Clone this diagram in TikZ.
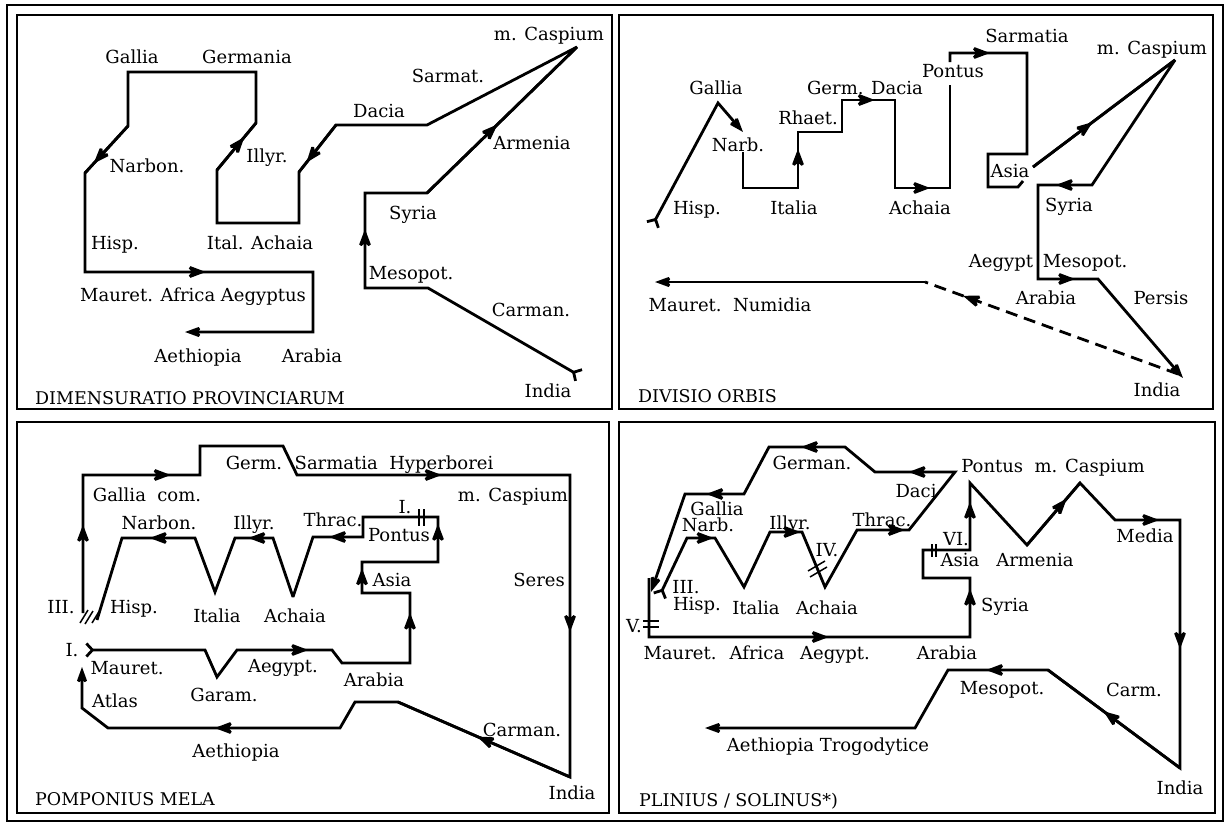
\documentclass[tikz,border=0pt]{standalone}
\usepackage{fontspec}
\setmainfont{DejaVu Serif}
\usetikzlibrary{arrows.meta,decorations.markings}

\tikzset{
  pointer/.tip={Stealth[length=18pt,width=13pt,inset=5pt]},
  midpointer/.tip={Stealth[length=20pt,width=15pt,inset=6pt]},
  forktail/.tip={Straight Barb[reversed,length=6pt,width=13pt]},
  route/.style={line width=2.8pt, line join=miter, miter limit=3},
  arrowat/.style={postaction={decorate},
    decoration={markings, mark=at position #1 with {\arrow{midpointer}}}},
  place/.style={font=\fontsize{18}{20}\selectfont, inner sep=0pt, anchor=base},
  heading/.style={font=\fontsize{17.5}{20}\selectfont, inner sep=0pt, anchor=base west},
  panel/.style={line width=1.6pt},
  cut/.style={line width=1.5pt},
}

\begin{document}
\begin{tikzpicture}[x=1pt,y=-1pt]
        \useasboundingbox (0,0) rectangle (1232,827);
        \draw[line width=2.6pt] (7,5) rectangle (1223,821);
        \draw[panel] (17,15) rectangle (612,409);
        \draw[panel] (619,15) rectangle (1213,409);
        \draw[panel] (17,422) rectangle (609,813);
        \draw[panel] (619,422) rectangle (1215,813);

        % Dimensuratio provinciarum
        \draw[route,{forktail}-{pointer}] (580,376) -- (428,288) -- (365,288) -- (365,193) -- (427,193)
            -- (577,47) -- (427,125) -- (336,125) -- (299,172) -- (299,223) -- (217,223)
            -- (217,170) -- (256,123) -- (256,72) -- (128,72) -- (128,126) -- (85,173)
            -- (85,272) -- (313,272) -- (313,332) -- (185,332);
        \draw[route,arrowat=0.62] (365,288) -- (365,193);
        \draw[route,arrowat=0.47] (427,193) -- (577,47);
        \draw[route,arrowat=0.8] (336,125) -- (299,172);
        \draw[route,arrowat=0.7] (217,170) -- (256,123);
        \draw[route,arrowat=0.8] (128,126) -- (85,173);
        \draw[route,arrowat=0.53] (85,272) -- (313,272);
        \node[place] (aGal) at (132,63) {Gallia};
        \node[place] (aGer) at (247,63) {Germania};
        \node[place] (aNar) at (147,172) {Narbon.};
        \node[place] (aIll) at (267,162) {Illyr.};
        \node[place] (aHis) at (115,249) {Hisp.};
        \node[place] (aIta) at (260,249) {Ital. Achaia};
        \node[place] (aMau) at (193,301) {Mauret. Africa Aegyptus};
        \node[place] (aAet) at (198,362) {Aethiopia};
        \node[place] (aAra) at (312,362) {Arabia};
        \node[place] (aCas) at (549,40) {m. Caspium};
        \node[place] (aSar) at (448,82) {Sarmat.};
        \node[place] (aDac) at (379,117) {Dacia};
        \node[place] (aArm) at (532,149) {Armenia};
        \node[place] (aSyr) at (413,219) {Syria};
        \node[place] (aMes) at (411,279) {Mesopot.};
        \node[place] (aCar) at (531,316) {Carman.};
        \node[place] (aInd) at (548,397) {India};
        \node[heading] (aTit) at (35,404) {DIMENSURATIO PROVINCIARUM};

        % Divisio orbis
        \draw[route,{forktail}-{pointer}] (652,226) -- (718,103) -- (743,132);
        \draw[route] (743,152) -- (743,188) -- (798,188) -- (798,132) -- (842,132) -- (842,100)
            -- (895,100) -- (895,188) -- (950,188) -- (950,85);
        \draw[route,arrowat=0.7] (798,188) -- (798,132);
        \draw[route,arrowat=0.62] (842,100) -- (895,100);
        \draw[route,arrowat=0.64] (895,188) -- (950,188);
        \draw[route] (950,62) -- (950,53) -- (1027,53) -- (1027,154) -- (988,154) -- (988,187)
            -- (1018,187) -- (1023,181);
        \draw[route,arrowat=0.52] (950,53) -- (1027,53);
        \draw[route,-{pointer}] (1033,167) -- (1175,60) -- (1092,185) -- (1038,185) -- (1038,279)
            -- (1098,279) -- (1183,378);
        \draw[route,arrowat=0.42] (1033,167) -- (1175,60);
        \draw[route,arrowat=0.67] (1092,185) -- (1038,185);
        \draw[route,arrowat=0.62] (1038,279) -- (1098,279);
        \draw[route,dash pattern=on 12pt off 7pt,arrowat=0.85] (1178,374) -- (925,282);
        \draw[route,-{pointer}] (925,282) -- (655,282);
        \node[place] (bGal) at (716,94) {Gallia};
        \node[place] (bNar) at (738,151) {Narb.};
        \node[place] (bRha) at (808,124) {Rhaet.};
        \node[place] (bGer) at (865,94) {Germ. Dacia};
        \node[place] (bHis) at (697,214) {Hisp.};
        \node[place] (bIta) at (794,214) {Italia};
        \node[place] (bAch) at (920,214) {Achaia};
        \node[place] (bSar) at (1027,42) {Sarmatia};
        \node[place] (bPon) at (953,77) {Pontus};
        \node[place] (bCas) at (1152,54) {m. Caspium};
        \node[place] (bAsi) at (1010,177) {Asia};
        \node[place] (bSyr) at (1069,211) {Syria};
        \node[place] (bAeg) at (1001,267) {Aegypt};
        \node[place] (bMes) at (1085,267) {Mesopot.};
        \node[place] (bAra) at (1046,304) {Arabia};
        \node[place] (bPer) at (1161,304) {Persis};
        \node[place] (bInd) at (1157,396) {India};
        \node[place] (bMau) at (730,311) {Mauret.\ \ Numidia};
        \node[heading] (bTit) at (638,402) {DIVISIO ORBIS};

        % Pomponius Mela
        \draw[route,{forktail}-] (85,650) -- (205,650) -- (217,677) -- (237,650) -- (332,650)
            -- (342,663) -- (410,663) -- (410,593) -- (362,593) -- (362,562) -- (438,562)
            -- (438,517) -- (363,517) -- (363,537) -- (313,537) -- (293,597) -- (273,538)
            -- (235,538) -- (215,592) -- (195,538) -- (122,538) -- (97,620);
        \draw[route,arrowat=0.75] (237,650) -- (332,650);
        \draw[route,arrowat=0.72] (410,663) -- (410,593);
        \draw[route,arrowat=0.8] (362,593) -- (362,562);
        \draw[route,arrowat=0.85] (438,562) -- (438,517);
        \draw[route,arrowat=0.68] (363,537) -- (313,537);
        \draw[route,arrowat=0.65] (273,538) -- (235,538);
        \draw[route,arrowat=0.62] (195,538) -- (122,538);
        \draw[route,-{pointer}] (83,613) -- (83,475) -- (200,475) -- (200,446) -- (283,446) -- (297,475)
            -- (570,475) -- (570,777) -- (398,702) -- (355,702) -- (340,728) -- (108,728)
            -- (82,708) -- (82,667);
        \draw[route,arrowat=0.64] (83,613) -- (83,475);
        \draw[route,arrowat=0.75] (83,475) -- (200,475);
        \draw[route,arrowat=0.53] (297,475) -- (570,475);
        \draw[route,arrowat=0.52] (570,475) -- (570,777);
        \draw[route,arrowat=0.54] (570,777) -- (398,702);
        \draw[route,arrowat=0.54] (340,728) -- (108,728);
        \draw[cut] (419,509) -- (419,526);
        \draw[cut] (424,509) -- (424,526);
        \draw[cut] (80,623) -- (88,610);
        \draw[cut] (85,624) -- (93,611);
        \draw[cut] (92,623) -- (100,610);
        \node[place] (cGer) at (254,469) {Germ.};
        \node[place] (cSar) at (394,469) {Sarmatia\ \ Hyperborei};
        \node[place] (cGal) at (147,501) {Gallia\ \ com.};
        \node[place] (cCas) at (513,501) {m. Caspium};
        \node[place] (cNar) at (159,529) {Narbon.};
        \node[place] (cIll) at (254,529) {Illyr.};
        \node[place] (cThr) at (333,526) {Thrac.};
        \node[place] (cOne) at (405,513) {I.};
        \node[place] (cPon) at (399,541) {Pontus};
        \node[place] (cAsi) at (392,586) {Asia};
        \node[place] (cSer) at (539,586) {Seres};
        \node[place] (cThree) at (61,613) {III.};
        \node[place] (cHis) at (134,613) {Hisp.};
        \node[place] (cIta) at (217,622) {Italia};
        \node[place] (cAch) at (295,622) {Achaia};
        \node[place] (cStart) at (72,656) {I.};
        \node[place] (cMau) at (127,674) {Mauret.};
        \node[place] (cAeg) at (283,672) {Aegypt.};
        \node[place] (cGar) at (224,701) {Garam.};
        \node[place] (cAtl) at (115,707) {Atlas};
        \node[place] (cAra) at (374,686) {Arabia};
        \node[place] (cCar) at (522,736) {Carman.};
        \node[place] (cAet) at (236,757) {Aethiopia};
        \node[place] (cInd) at (572,799) {India};
        \node[heading] (cTit) at (35,805) {POMPONIUS MELA};

        % Plinius / Solinus
        \draw[route,{forktail}-{pointer}] (659,597) -- (687,538) -- (715,538) -- (744,587) -- (770,532)
            -- (802,532) -- (825,587) -- (857,530) -- (909,530) -- (955,472) -- (875,472)
            -- (845,447) -- (769,447) -- (744,494) -- (685,494) -- (651,592);
        \draw[route,arrowat=0.95] (687,538) -- (715,538);
        \draw[route,arrowat=0.95] (770,532) -- (802,532);
        \draw[route,arrowat=0.92] (857,530) -- (909,530);
        \draw[route,arrowat=0.58] (955,472) -- (875,472);
        \draw[route,arrowat=0.58] (845,447) -- (769,447);
        \draw[route,arrowat=0.64] (744,494) -- (685,494);
        \draw[route,-{pointer}] (649,578) -- (649,637) -- (970,637) -- (970,578) -- (923,578) -- (923,550)
            -- (970,550) -- (970,483) -- (1027,545) -- (1080,483) -- (1115,520) -- (1180,520)
            -- (1180,768) -- (1048,670) -- (948,670) -- (915,728) -- (705,728);
        \draw[route,arrowat=0.56] (649,637) -- (970,637);
        \draw[route,arrowat=0.82] (970,637) -- (970,578);
        \draw[route,arrowat=0.72] (970,550) -- (970,483);
        \draw[route,arrowat=0.75] (1027,545) -- (1080,483);
        \draw[route,arrowat=0.68] (1115,520) -- (1180,520);
        \draw[route,arrowat=0.52] (1180,520) -- (1180,768);
        \draw[route,arrowat=0.58] (1180,768) -- (1048,670);
        \draw[route,arrowat=0.62] (1048,670) -- (948,670);
        \draw[cut] (808,571) -- (825,561);
        \draw[cut] (810,577) -- (827,567);
        \draw[cut] (643,621) -- (659,621);
        \draw[cut] (643,627) -- (659,627);
        \draw[cut] (932,544) -- (932,557);
        \draw[cut] (936,544) -- (936,557);
        \node[place] (dGer) at (812,469) {German.};
        \node[place] (dDac) at (916,497) {Daci};
        \node[place] (dGal) at (717,515) {Gallia};
        \node[place] (dNar) at (708,531) {Narb.};
        \node[place] (dIll) at (790,529) {Illyr.};
        \node[place] (dThr) at (882,526) {Thrac.};
        \node[place] (dFour) at (827,556) {IV.};
        \node[place] (dThree) at (686,593) {III.};
        \node[place] (dHis) at (697,610) {Hisp.};
        \node[place] (dIta) at (756,614) {Italia};
        \node[place] (dAch) at (827,614) {Achaia};
        \node[place] (dFive) at (634,632) {V.};
        \node[place] (dMau) at (680,659) {Mauret.};
        \node[place] (dAfr) at (757,659) {Africa};
        \node[place] (dAeg) at (835,659) {Aegypt.};
        \node[place] (dAra) at (947,659) {Arabia};
        \node[place] (dAet) at (828,751) {Aethiopia Trogodytice};
        \node[place] (dPon) at (1053,472) {Pontus\ \ m. Caspium};
        \node[place] (dSix) at (956,545) {VI.};
        \node[place] (dAsi) at (960,566) {Asia};
        \node[place] (dArm) at (1035,566) {Armenia};
        \node[place] (dSyr) at (1005,611) {Syria};
        \node[place] (dMed) at (1145,542) {Media};
        \node[place] (dMes) at (1002,694) {Mesopot.};
        \node[place] (dCar) at (1134,696) {Carm.};
        \node[place] (dInd) at (1180,794) {India};
        \node[heading] (dTit) at (639,806) {PLINIUS / SOLINUS*)};
    \end{tikzpicture}
\end{document}
